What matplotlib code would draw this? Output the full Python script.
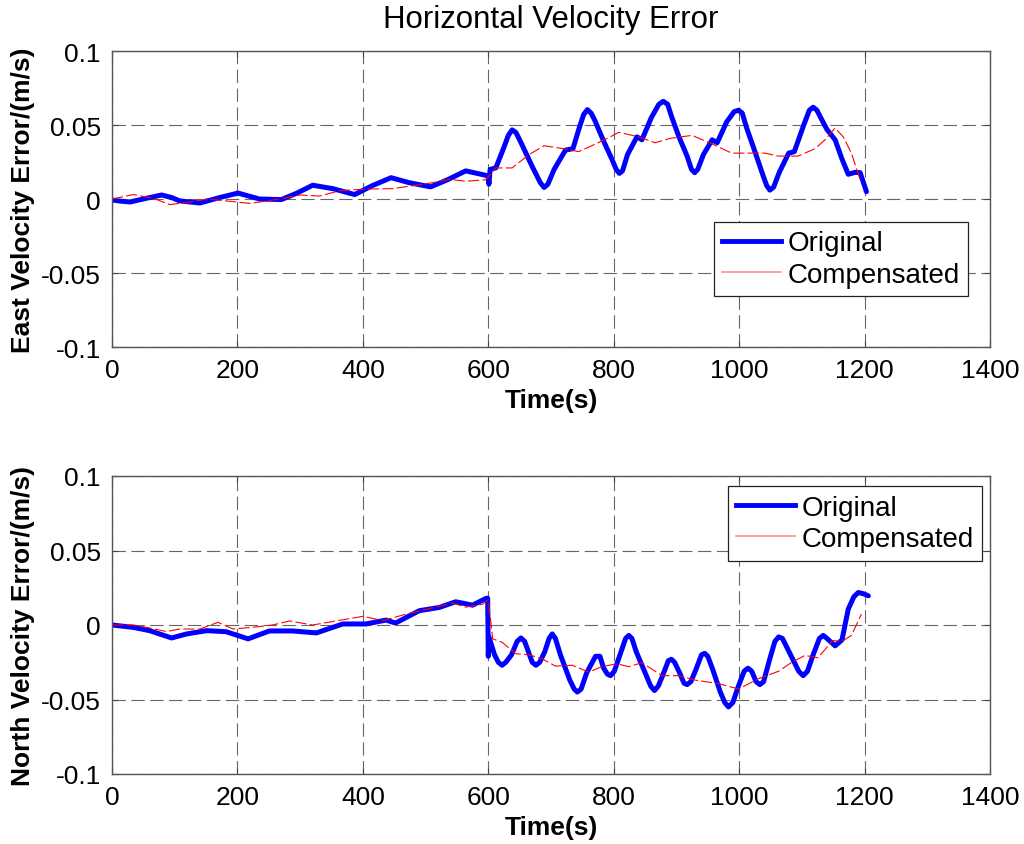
import numpy as np
import matplotlib
matplotlib.use("Agg")
import matplotlib.pyplot as plt
from matplotlib.lines import Line2D

plt.rcParams["font.family"] = ["Liberation Sans", "DejaVu Sans"]

# ---------- data ----------
east_orig_t = [0, 15, 29, 55, 79, 95, 108, 140, 172, 201, 218, 235, 270, 295, 320,
               352, 387, 415, 445, 474, 508, 535, 564, 596, 600, 601, 603, 612, 625,
               632, 638, 644, 650, 670, 683, 689, 695, 705, 723, 735, 745, 752, 758,
               764, 770, 784, 797, 804, 809, 814, 822, 837, 845, 860, 872, 879, 886,
               892, 904, 917, 924, 929, 934, 943, 957, 965, 980, 992, 999, 1005, 1012,
               1026, 1038, 1044, 1049, 1055, 1064, 1079, 1088, 1103, 1112, 1118, 1124,
               1130, 1140, 1153, 1164, 1174, 1185, 1193, 1203]
east_orig_v = [-0.0007, -0.0015, -0.002, 0.0005, 0.0027, 0.001, -0.0013, -0.0027, 0.001,
               0.004, 0.002, 0.0, -0.0004, 0.004, 0.0093, 0.007, 0.003, 0.009, 0.0144,
               0.011, 0.0082, 0.013, 0.019, 0.016, 0.015, 0.010, 0.020, 0.021, 0.035,
               0.043, 0.0467, 0.045, 0.040, 0.022, 0.011, 0.0078, 0.010, 0.020, 0.033,
               0.034, 0.048, 0.057, 0.0604, 0.058, 0.053, 0.039, 0.027, 0.020, 0.0173,
               0.019, 0.030, 0.042, 0.040, 0.055, 0.064, 0.066, 0.064, 0.056, 0.042,
               0.029, 0.020, 0.0178, 0.020, 0.030, 0.040, 0.038, 0.052, 0.059, 0.060,
               0.058, 0.048, 0.031, 0.016, 0.009, 0.006, 0.008, 0.018, 0.031, 0.032,
               0.050, 0.060, 0.062, 0.060, 0.055, 0.047, 0.040, 0.027, 0.0167, 0.018,
               0.0178, 0.0049]

east_comp_t = [0, 34, 66, 92, 125, 151, 175, 198, 220, 267, 299, 331, 363, 405, 447,
               485, 511, 538, 564, 596, 612, 638, 665, 689, 720, 744, 770, 790, 808,
               840, 866, 890, 925, 958, 988, 1003, 1041, 1062, 1094, 1121, 1137, 1153,
               1166, 1179, 1193]
east_comp_v = [0.0, 0.003, 0.0005, -0.0038, -0.002, 0.0, -0.001, -0.002, -0.003, 0.0,
               0.0027, 0.002, 0.0056, 0.0067, 0.007, 0.0093, 0.011, 0.0133, 0.012,
               0.013, 0.021, 0.021, 0.030, 0.036, 0.034, 0.032, 0.037, 0.041, 0.045,
               0.042, 0.038, 0.041, 0.043, 0.037, 0.031, 0.031, 0.031, 0.029, 0.029,
               0.034, 0.040, 0.048, 0.042, 0.031, 0.013]

north_orig_t = [0, 34, 60, 95, 119, 151, 182, 217, 251, 288, 326, 368, 405, 437, 452,
                490, 522, 548, 575, 596, 599, 600, 601, 610, 616, 622, 628, 637, 646,
                652, 658, 664, 670, 676, 682, 690, 697, 702, 707, 715, 730, 737, 742,
                748, 757, 771, 778, 784, 790, 795, 801, 810, 819, 824, 829, 836, 850,
                859, 865, 871, 878, 887, 892, 897, 905, 912, 917, 923, 931, 940, 945,
                950, 958, 970, 977, 983, 990, 998, 1008, 1014, 1020, 1027, 1033, 1039,
                1048, 1057, 1063, 1069, 1082, 1095, 1102, 1109, 1118, 1128, 1134, 1140,
                1153, 1164, 1174, 1183, 1190, 1198, 1206]
north_orig_v = [0.0, -0.0016, -0.0038, -0.0087, -0.006, -0.0038, -0.0045, -0.0093,
                -0.004, -0.004, -0.0053, 0.0007, 0.0007, 0.0033, 0.0013, 0.0096, 0.0118,
                0.0156, 0.0133, 0.0178, 0.018, -0.021, -0.008, -0.020, -0.025, -0.027,
                -0.025, -0.020, -0.011, -0.0087, -0.011, -0.018, -0.025, -0.027,
                -0.025, -0.018, -0.009, -0.006, -0.009, -0.020, -0.037, -0.043, -0.045,
                -0.043, -0.032, -0.021, -0.021, -0.029, -0.033, -0.034, -0.031, -0.020,
                -0.009, -0.007, -0.009, -0.018, -0.032, -0.041, -0.044, -0.041, -0.034,
                -0.024, -0.023, -0.025, -0.032, -0.039, -0.040, -0.038, -0.030, -0.020,
                -0.019, -0.021, -0.030, -0.045, -0.052, -0.055, -0.052, -0.042, -0.031,
                -0.029, -0.031, -0.038, -0.040, -0.038, -0.024, -0.011, -0.008, -0.009,
                -0.020, -0.031, -0.034, -0.031, -0.020, -0.009, -0.007, -0.009, -0.014,
                -0.010, 0.0107, 0.019, 0.0218, 0.021, 0.0196]

north_comp_t = [0, 34, 60, 87, 108, 140, 169, 193, 230, 256, 283, 320, 357, 400, 432,
                469, 506, 543, 564, 591, 600, 607, 622, 644, 665, 686, 707, 734, 760,
                781, 805, 824, 845, 877, 903, 930, 967, 999, 1031, 1063, 1084, 1105,
                1126, 1149, 1164, 1179, 1195]
north_comp_v = [0.0, 0.0, -0.002, -0.0044, -0.0027, -0.0027, 0.0018, -0.0027, -0.0013,
                0.0, 0.0027, 0.0, 0.0027, 0.0058, 0.003, 0.0073, 0.011, 0.0147, 0.012,
                0.014, 0.017, -0.0093, -0.0116, -0.0193, -0.020, -0.0227, -0.0276,
                -0.027, -0.0316, -0.028, -0.026, -0.028, -0.0253, -0.034, -0.034,
                -0.037, -0.0393, -0.043, -0.036, -0.031, -0.025, -0.0204, -0.022,
                -0.0104, -0.011, -0.007, 0.0073]

x_ticks = [0, 200, 400, 600, 800, 1000, 1200, 1400]
y_ticks = [-0.1, -0.05, 0, 0.05, 0.1]
y_tick_labels = ["-0.1", "-0.05", "0", "0.05", "0.1"]

# ---------- style ----------
col_orig = "#0000ff"
col_comp = "#ff0000"
grid_col = "#666666"
fs = 19

fig = plt.figure(figsize=(10.24, 8.45), dpi=100)
ax_top = fig.add_axes([112 / 1024, 1 - 348 / 845, 878 / 1024, 296 / 845])
ax_bot = fig.add_axes([112 / 1024, 1 - 775 / 845, 878 / 1024, 298 / 845])


def _style(ax, ylabel):
    ax.set_xlim(0, 1400)
    ax.set_ylim(-0.1, 0.1)
    ax.set_xticks(x_ticks)
    ax.set_xticklabels([str(v) for v in x_ticks], fontsize=fs)
    ax.set_yticks(y_ticks)
    ax.set_yticklabels(y_tick_labels, fontsize=fs)
    ax.tick_params(direction="in", length=4, width=0.8, top=True, right=True,
                   pad=8, color="#444444")
    ax.grid(True, color=grid_col, linewidth=0.8, linestyle=(0, (12, 5)))
    for s in ax.spines.values():
        s.set_color("#555555")
        s.set_linewidth(1.0)
    ax.set_xlabel("Time(s)", fontsize=fs, fontweight="bold", labelpad=4)
    ax.set_ylabel(ylabel, fontsize=fs, fontweight="bold", labelpad=4)


def _legend(ax, anchor):
    handles = [
        Line2D([], [], color=col_orig, linewidth=3.5),
        Line2D([], [], color="#ff9090", linewidth=1.2),
    ]
    leg = ax.legend(handles, ["Original", "Compensated"], loc="upper right",
                    bbox_to_anchor=anchor, fontsize=20, frameon=True,
                    fancybox=False, edgecolor="#222222", framealpha=1,
                    handlelength=2.1, handletextpad=0.25, borderpad=0.3,
                    labelspacing=0.2, borderaxespad=0)
    leg.get_frame().set_linewidth(0.9)


# east
ax_top.plot(east_orig_t, east_orig_v, color=col_orig, linewidth=3.6,
            solid_joinstyle="round", solid_capstyle="round")
ax_top.plot(east_comp_t, east_comp_v, color=col_comp, linewidth=0.8,
            linestyle=(0, (10, 3)))
_style(ax_top, "East Velocity Error/(m/s)")
ax_top.set_title("Horizontal Velocity Error", fontsize=22.5, pad=17)
_legend(ax_top, (0.975, 0.422))

# north
ax_bot.plot(north_orig_t, north_orig_v, color=col_orig, linewidth=3.6,
            solid_joinstyle="round", solid_capstyle="round")
ax_bot.plot(north_comp_t, north_comp_v, color=col_comp, linewidth=0.8,
            linestyle=(0, (10, 3)))
_style(ax_bot, "North Velocity Error/(m/s)")
_legend(ax_bot, (0.991, 0.9655))

fig.savefig("out.png", dpi=100)
